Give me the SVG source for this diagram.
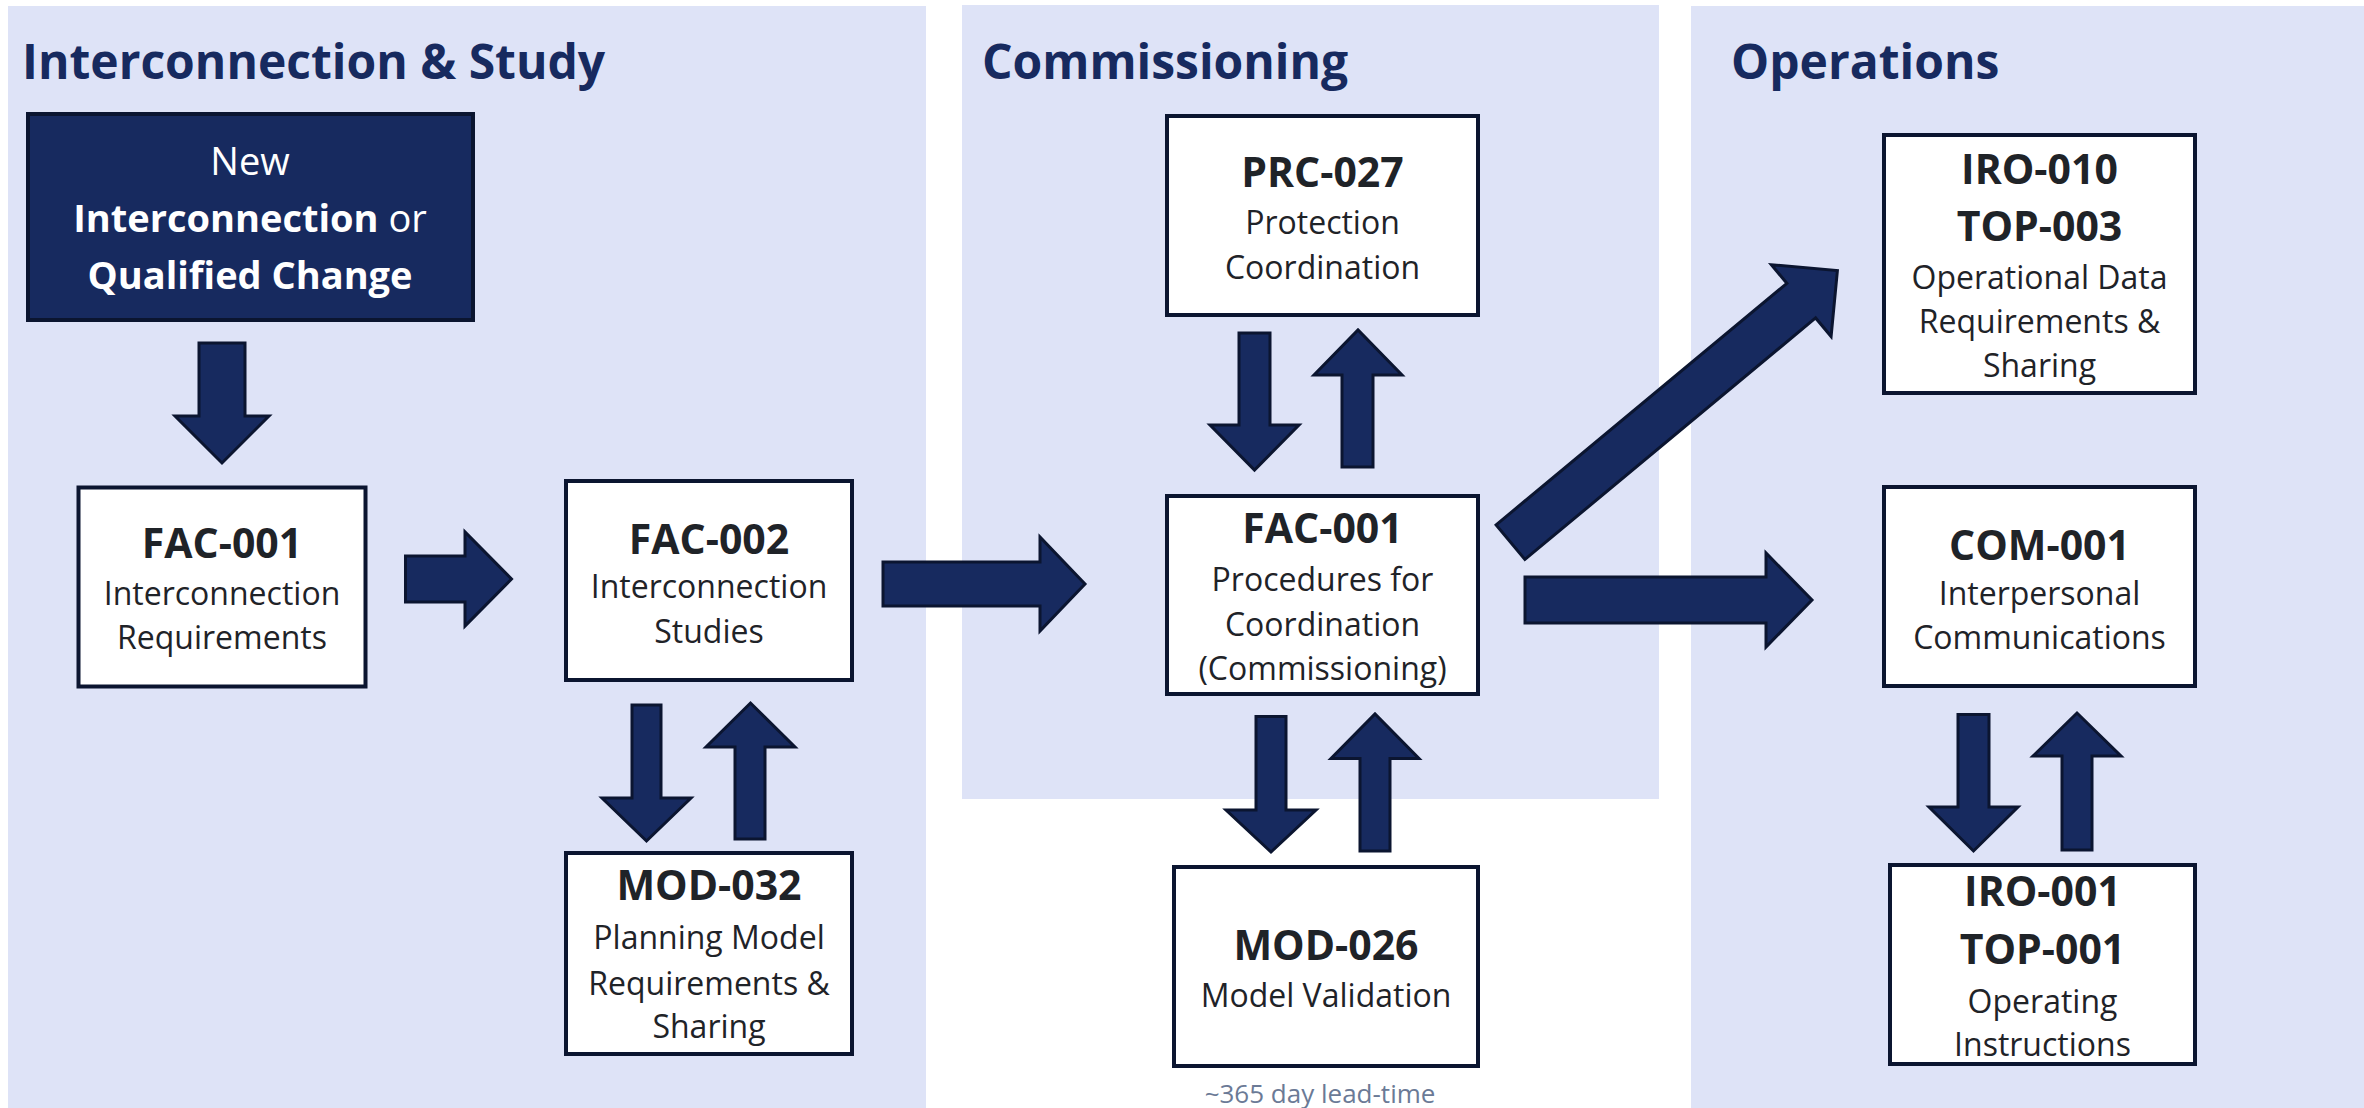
<svg xmlns="http://www.w3.org/2000/svg" width="2364" height="1108" viewBox="0 0 2364 1108">
<style>
.panel{fill:#dee3f7}
.ptitle{font-family:"Open Sans","Liberation Sans",sans-serif;font-weight:700;font-size:48px;fill:#172a5f}
.box{fill:#ffffff;stroke:#0b1530;stroke-width:4}
.dark{fill:#172a5f;stroke:#0b1530;stroke-width:4}
.code{font-family:"Open Sans","Liberation Sans",sans-serif;font-weight:700;font-size:41px;fill:#1f2328;text-anchor:middle}
.body{font-family:"Open Sans","Liberation Sans",sans-serif;font-size:32px;fill:#1f2328;text-anchor:middle}
.wt{font-family:"Open Sans","Liberation Sans",sans-serif;font-size:38px;fill:#ffffff;text-anchor:middle}
.b{font-weight:700}
.note{font-family:"Open Sans","Liberation Sans",sans-serif;font-size:26px;fill:#6b7a96;text-anchor:middle}
.arr{fill:#172a5f;stroke:#0b1530;stroke-width:3;stroke-linejoin:miter}
</style>
<rect width="2364" height="1108" fill="#ffffff"/>
<g id="panels">
<rect class="panel" x="8" y="6" width="918" height="1102"/>
<rect class="panel" x="962" y="5" width="697" height="794"/>
<rect class="panel" x="1691" y="6" width="673" height="1102"/>
<text class="ptitle" x="22" y="79">Interconnection &amp; Study</text>
<text class="ptitle" x="982" y="79">Commissioning</text>
<text class="ptitle" x="1731" y="79">Operations</text>
</g>
<g id="connectors">
<path class="arr" d="M199,343 H245 V416 H269 L222,463 L175,416 H199 Z"/>
<path class="arr" d="M405.5,556 H465 V532 L511.5,579 L465,626 V602 H405.5 Z"/>
<path class="arr" d="M883,562 H1040 V537 L1085,584 L1040,631 V606 H883 Z"/>
<path class="arr" d="M1525,577 H1766 V553 L1812,600 L1766,647 V623 H1525 Z"/>
<path class="arr" transform="translate(1510.5,542.2) rotate(-39.72)" d="M0,-22.5 H378 V-46.7 L425,0 L378,46.7 V22.5 H0 Z"/>
<path class="arr" d="M632,705 H661 V798 H691 L646.5,841 L602,798 H632 Z"/>
<path class="arr" d="M735,839 V747 H706 L750.5,703 L795,747 H765 V839 Z"/>
<path class="arr" d="M1239,333 H1270 V425 H1299 L1254.5,470 L1210,425 H1239 Z"/>
<path class="arr" d="M1342,467 V375 H1314 L1358,330 L1402,375 H1373 V467 Z"/>
<path class="arr" d="M1256,716.5 H1286 V810 H1316 L1271,852 L1226,810 H1256 Z"/>
<path class="arr" d="M1360,851 V758.5 H1331 L1375,714 L1419,758.5 H1390 V851 Z"/>
<path class="arr" d="M1958,714.5 H1989 V807 H2018 L1973.5,851 L1929,807 H1958 Z"/>
<path class="arr" d="M2062,850 V756 H2033 L2077,713 L2121,756 H2092 V850 Z"/>
</g>
<g id="node-start">
<rect class="dark" x="28" y="114" width="445" height="206"/>
<text class="wt" x="250" y="175">New</text>
<text class="wt" x="250" y="232"><tspan class="b">Interconnection</tspan> or</text>
<text class="wt b" x="250" y="289">Qualified Change</text>
</g>
<g id="node-fac001">
<rect class="box" x="78.5" y="487.5" width="287" height="199"/>
<text class="code" x="222" y="558">FAC-001</text>
<text class="body" x="222" y="605">Interconnection</text>
<text class="body" x="222" y="649">Requirements</text>
</g>
<g id="node-fac002">
<rect class="box" x="566" y="481" width="286" height="199"/>
<text class="code" x="709" y="554">FAC-002</text>
<text class="body" x="709" y="598">Interconnection</text>
<text class="body" x="709" y="643">Studies</text>
</g>
<g id="node-mod032">
<rect class="box" x="566" y="853" width="286" height="201"/>
<text class="code" x="709" y="900">MOD-032</text>
<text class="body" x="709" y="949">Planning Model</text>
<text class="body" x="709" y="995">Requirements &amp;</text>
<text class="body" x="709" y="1038">Sharing</text>
</g>
<g id="node-prc027">
<rect class="box" x="1167" y="116" width="311" height="199"/>
<text class="code" x="1322.5" y="187">PRC-027</text>
<text class="body" x="1322.5" y="234">Protection</text>
<text class="body" x="1322.5" y="279">Coordination</text>
</g>
<g id="node-fac001c">
<rect class="box" x="1167" y="496" width="311" height="198"/>
<text class="code" x="1322.5" y="543">FAC-001</text>
<text class="body" x="1322.5" y="591">Procedures for</text>
<text class="body" x="1322.5" y="636">Coordination</text>
<text class="body" x="1322.5" y="680">(Commissioning)</text>
</g>
<g id="node-mod026">
<rect class="box" x="1174" y="867" width="304" height="199"/>
<text class="code" x="1326" y="960">MOD-026</text>
<text class="body" x="1326" y="1007">Model Validation</text>
<text class="note" x="1320" y="1103">~365 day lead-time</text>
</g>
<g id="node-iro010">
<rect class="box" x="1884" y="135" width="311" height="258"/>
<text class="code" x="2039.5" y="184">IRO-010</text>
<text class="code" x="2039.5" y="241">TOP-003</text>
<text class="body" x="2039.5" y="289">Operational Data</text>
<text class="body" x="2039.5" y="333">Requirements &amp;</text>
<text class="body" x="2039.5" y="377">Sharing</text>
</g>
<g id="node-com001">
<rect class="box" x="1884" y="487" width="311" height="199"/>
<text class="code" x="2039.5" y="560">COM-001</text>
<text class="body" x="2039.5" y="605">Interpersonal</text>
<text class="body" x="2039.5" y="649">Communications</text>
</g>
<g id="node-iro001">
<rect class="box" x="1890" y="865" width="305" height="199"/>
<text class="code" x="2042.5" y="906">IRO-001</text>
<text class="code" x="2042.5" y="964">TOP-001</text>
<text class="body" x="2042.5" y="1013">Operating</text>
<text class="body" x="2042.5" y="1056">Instructions</text>
</g>
</svg>
